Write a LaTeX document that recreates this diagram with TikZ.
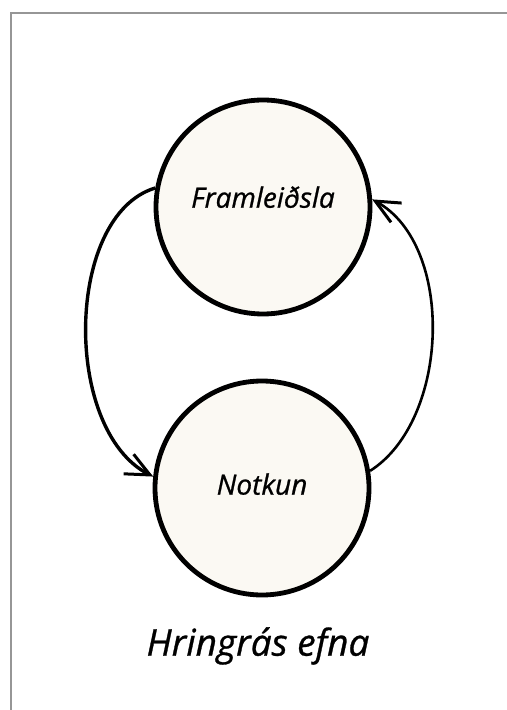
\documentclass[tikz,border=0pt]{standalone}
\usepackage{fontspec}
\setmainfont{Open Sans}[ItalicFeatures={FakeBold=0.8}]
\usetikzlibrary{arrows.meta}
\definecolor{CycleCream}{RGB}{251,249,243}
\definecolor{FrameGrey}{RGB}{150,150,150}

\begin{document}
\begin{tikzpicture}[x=0.5pt, y=-0.5pt,
                every node/.style={font=\itshape},
                stage/.style={draw, circle, line width=2.4pt, fill=CycleCream, minimum size=107pt, inner sep=0pt, font=\itshape\fontsize{14}{16}\selectfont},
                flow/.style={-{Straight Barb[length=12pt, width=11pt, line width=1.5pt]}, line width=1.7pt}]

                \useasboundingbox (0,0) rectangle (507,710);

                % Frame
                \draw[FrameGrey, line width=0.8pt] (507,13) -- (11,13) -- (11,710);

                % Stages
                \node[stage, text depth=10pt] (framleidsla) at (263,207) {Framleiðsla};
                \node[stage, text depth=4pt] (notkun) at (262,488) {Notkun};

                % Caption
                \node[font=\itshape\fontsize{18.5}{21}\selectfont] (title) at (258,646) {Hringrás efna};

                % Arrows
                \draw[flow] (framleidsla.170) .. controls (65,215) and (62,430) .. (notkun.174);
                \draw[flow, line width=1.3pt] (notkun.9) .. controls (450,420) and (455,245) .. (framleidsla.4);
\end{tikzpicture}
\end{document}
